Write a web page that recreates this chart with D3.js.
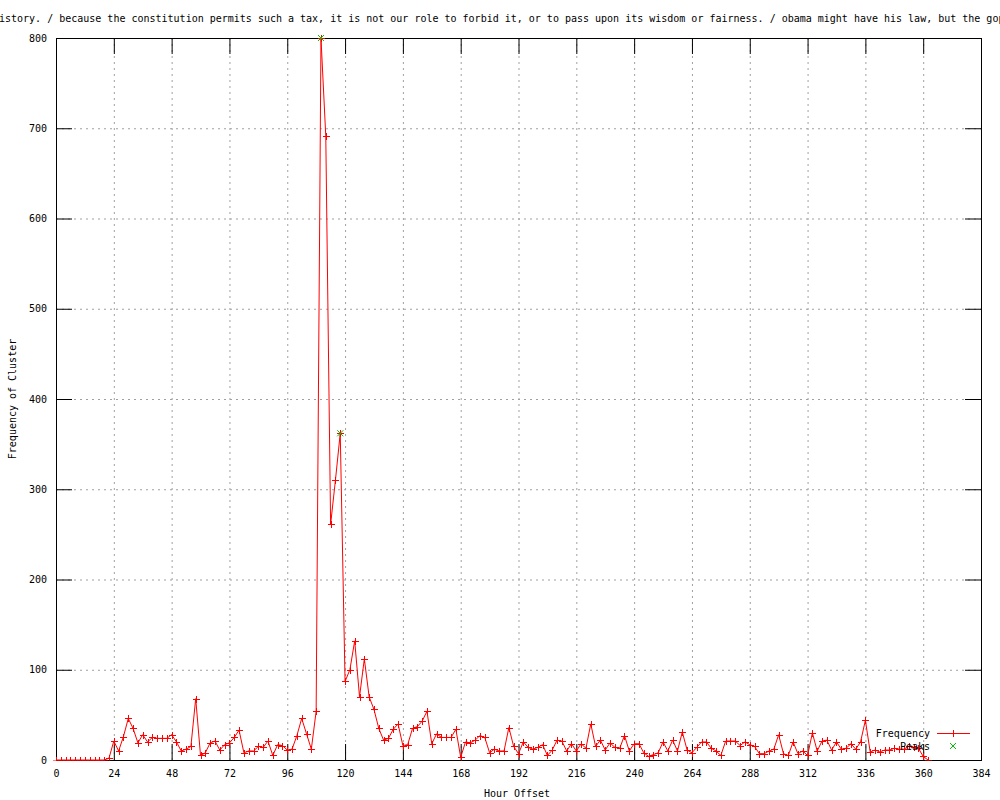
<!DOCTYPE html>
<html>
<head>
<meta charset="utf-8">
<script src="https://cdn.jsdelivr.net/npm/d3@7"></script>
<style>
  body { margin: 0; background: #fff; }
  text { font-family: 'DejaVu Sans Mono', monospace; font-size: 10px; fill: #000; }
</style>
</head>
<body>
<div id="chart"></div>
<script>
// hour offsets: one reading every 2 hours, 0 .. 362
const hours = d3.range(0, 364, 2)

// frequency of cluster at each hour offset
const frequency = [
  0, 0, 0, 0, 0, 0, 0, 0, 0, 0, 0, 2,
  21, 10, 26, 46, 35, 19, 28, 20, 25, 24, 24, 24,
  28, 20, 10, 12, 15, 68, 5, 8, 19, 21, 11, 17,
  19, 25, 33, 8, 10, 10, 15, 14, 21, 5, 17, 16,
  11, 12, 27, 46, 29, 12, 54, 800, 691, 261, 310, 362,
  87, 100, 132, 70, 112, 70, 56, 35, 22, 24, 34, 40,
  16, 17, 35, 37, 43, 54, 18, 29, 25, 25, 25, 34,
  3, 20, 19, 22, 27, 25, 8, 12, 10, 10, 36, 15,
  7, 20, 14, 12, 14, 17, 5, 11, 22, 21, 10, 18,
  10, 18, 13, 40, 15, 22, 11, 19, 14, 13, 27, 10,
  18, 18, 8, 4, 6, 8, 20, 10, 22, 10, 31, 11,
  8, 14, 20, 20, 13, 10, 5, 21, 21, 21, 16, 20,
  17, 15, 7, 7, 10, 12, 28, 7, 5, 20, 7, 10,
  5, 30, 10, 21, 22, 11, 20, 12, 13, 18, 12, 20,
  44, 9, 11, 9, 11, 11, 13, 12, 12, 15, 14, 13,
  4, 0
]

// detected peaks
const peakHours = [110, 118]
const peakValues = [800, 362]

const xTicks = d3.range(0, 385, 24)
const yTicks = d3.range(0, 801, 100)

const title = 'istory. / because the constitution permits such a tax, it is not our role to forbid it, or to pass upon its wisdom or fairness. / obama might have his law, but the gop'

const margin = { top: 38, left: 56, right: 19, bottom: 40 }
const W = 1000, H = 800
const width = W - margin.left - margin.right
const height = H - margin.top - margin.bottom
const TICK = 16

const data = hours.map((h, i) => ({ h: h, v: frequency[i] }))
const peaks = peakHours.map((h, i) => ({ h: h, v: peakValues[i] }))

const svg = d3.select('#chart').append('svg')
  .attr('width', W)
  .attr('height', H)

const g = svg.append('g')
  .attr('transform', 'translate(' + margin.left + ',' + margin.top + ')')

const x = d3.scaleLinear().domain([0, 384]).range([0, width])
const y = d3.scaleLinear().domain([0, 800]).range([height, 0])

// grid
g.append('g')
  .selectAll('line')
  .data(xTicks.slice(1, -1))
  .enter().append('line')
  .attr('x1', d => x(d) + 0.5).attr('x2', d => x(d) + 0.5)
  .attr('y1', 0).attr('y2', height)
  .attr('stroke', '#a0a0a0')
  .attr('stroke-dasharray', '2,4')
g.append('g')
  .selectAll('line')
  .data(yTicks.slice(1, -1))
  .enter().append('line')
  .attr('x1', 0).attr('x2', width)
  .attr('y1', d => y(d) + 0.5).attr('y2', d => y(d) + 0.5)
  .attr('stroke', '#a0a0a0')
  .attr('stroke-dasharray', '2,4')

// axes, ticks inward and mirrored
const xBottom = g.append('g').attr('transform', 'translate(0,' + height + ')')
  .call(d3.axisBottom(x).tickValues(xTicks).tickSize(-TICK).tickPadding(10))
const xTop = g.append('g')
  .call(d3.axisTop(x).tickValues(xTicks).tickSize(-TICK).tickFormat(''))
const yLeft = g.append('g')
  .call(d3.axisLeft(y).tickValues(yTicks).tickSize(-TICK).tickPadding(9))
const yRight = g.append('g').attr('transform', 'translate(' + width + ',0)')
  .call(d3.axisRight(y).tickValues(yTicks).tickSize(-TICK).tickFormat(''))

;[xBottom, xTop, yLeft, yRight].forEach(a => {
  a.select('.domain').remove()
  a.selectAll('.tick line').attr('stroke', '#000')
  a.selectAll('text').attr('font-size', 10).attr('font-family', "'DejaVu Sans Mono', monospace").attr('fill', '#000')
})

// border
g.append('rect')
  .attr('x', 0.5).attr('y', 0.5)
  .attr('width', width).attr('height', height)
  .attr('fill', 'none')
  .attr('stroke', '#000')

// frequency line
const line = d3.line().x(d => x(d.h)).y(d => y(d.v))
g.append('path')
  .datum(data)
  .attr('d', line)
  .attr('fill', 'none')
  .attr('stroke', '#ff0000')
  .attr('stroke-width', 1)

svg.append('clipPath').attr('id', 'bottomClip')
  .append('rect').attr('x', -20).attr('y', -20).attr('width', width + 40).attr('height', height + 20.5)

const S = 3.5
const crosses = g.append('g').attr('clip-path', 'url(#bottomClip)')
crosses.selectAll('path')
  .data(data)
  .enter().append('path')
  .attr('d', d => {
    const cx = Math.round(x(d.h)) + 0.5, cy = Math.round(y(d.v)) + 0.5
    return `M${cx - S},${cy}H${cx + S}M${cx},${cy - S}V${cy + S}`
  })
  .attr('stroke', '#ff0000')
  .attr('fill', 'none')

// peaks
const P = 3
g.append('g').selectAll('path')
  .data(peaks)
  .enter().append('path')
  .attr('d', d => {
    const cx = x(d.h), cy = y(d.v)
    return `M${cx - P},${cy - P}L${cx + P},${cy + P}M${cx - P},${cy + P}L${cx + P},${cy - P}`
  })
  .attr('stroke', '#00c000')
  .attr('fill', 'none')

// legend
const legend = svg.append('g')
legend.append('text').text('Frequency')
  .attr('x', 930).attr('y', 736.5).attr('text-anchor', 'end')
legend.append('path')
  .attr('d', 'M937,733.5H970')
  .style('stroke', '#ff0000')
  .style('fill', 'none')
legend.append('path')
  .attr('d', `M${953.5 - S},733.5H${953.5 + S}M953.5,${733.5 - S}V${733.5 + S}`)
  .style('stroke', '#ff0000')
  .style('fill', 'none')
legend.append('text').text('Peaks')
  .attr('x', 930).attr('y', 749.5).attr('text-anchor', 'end')
legend.append('path')
  .attr('d', `M${953 - P},${746 - P}L${953 + P},${746 + P}M${953 - P},${746 + P}L${953 + P},${746 - P}`)
  .style('stroke', '#00c000')
  .style('fill', 'none')

// titles
svg.append('text')
  .text(title)
  .attr('x', -1).attr('y', 22)
  .attr('xml:space', 'preserve')

svg.append('text')
  .text('Hour Offset')
  .attr('x', 517).attr('y', 797)
  .attr('text-anchor', 'middle')

svg.append('text')
  .text('Frequency of Cluster')
  .attr('transform', 'translate(16,399) rotate(-90)')
  .attr('text-anchor', 'middle')
</script>
</body>
</html>
